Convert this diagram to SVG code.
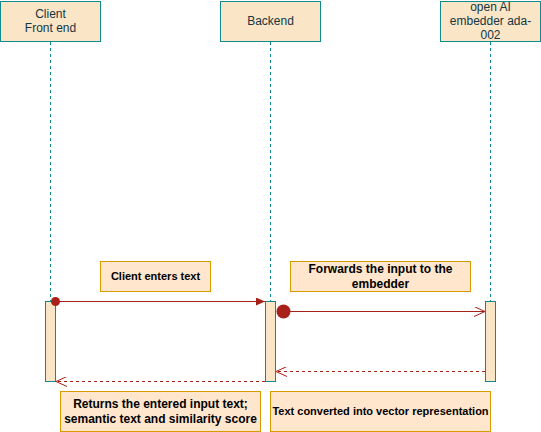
<svg xmlns="http://www.w3.org/2000/svg" width="541" height="432" viewBox="0 0 541 432">
<style>
.hdr{fill:#FAE5C7;stroke:#0F8B8D;stroke-width:1}
.bar{fill:#FAE5C7;stroke:#0F8B8D;stroke-width:1}
.life{stroke:#0F8B8D;stroke-width:1;stroke-dasharray:3 3;fill:none}
.lbl{fill:#FFE6CC;stroke:#D79B00;stroke-width:1}
.ht{font-family:"Liberation Sans",Arial,sans-serif;font-size:12px;fill:#143642;text-anchor:middle}
.lt{font-family:"Liberation Sans",Arial,sans-serif;font-size:11px;font-weight:bold;fill:#000;text-anchor:middle}
.lt12{font-family:"Liberation Sans",Arial,sans-serif;font-size:12px;font-weight:bold;fill:#000;text-anchor:middle}
.msg{stroke:#A8201A;stroke-width:1;fill:none}
.ret{stroke:#A8201A;stroke-width:1;fill:none;stroke-dasharray:3 3}
</style>
<defs>
<marker id="block" markerWidth="10" markerHeight="8" refX="9" refY="4" orient="auto" markerUnits="userSpaceOnUse">
<path d="M0,0 L9,4 L0,8 Z" fill="#A8201A"/>
</marker>
<marker id="open" markerWidth="12" markerHeight="10" refX="11" refY="5" orient="auto" markerUnits="userSpaceOnUse">
<path d="M0,0 L11,5 L0,10" fill="none" stroke="#A8201A" stroke-width="1"/>
</marker>
</defs>
<rect width="541" height="432" fill="#fff"/>
<g id="lifelines">
<line class="life" x1="50.5" y1="42" x2="50.5" y2="301"/>
<line class="life" x1="270.5" y1="42" x2="270.5" y2="301"/>
<line class="life" x1="490.5" y1="42" x2="490.5" y2="301"/>
</g>
<g id="client">
<rect class="hdr" x="0.5" y="1.5" width="100" height="40"/>
<text class="ht" x="50.5" y="18">Client</text>
<text class="ht" x="50.5" y="32">Front end</text>
</g>
<g id="backend">
<rect class="hdr" x="220.5" y="1.5" width="100" height="40"/>
<text class="ht" x="270.5" y="25">Backend</text>
</g>
<g id="embedder">
<rect class="hdr" x="440.5" y="1.5" width="100" height="40"/>
<text class="ht" x="490.5" y="11">open AI</text>
<text class="ht" x="490.5" y="25">embedder ada-</text>
<text class="ht" x="490.5" y="39">002</text>
</g>
<g id="bar-client"><rect class="bar" x="45.5" y="301.5" width="10" height="80"/></g>
<g id="bar-backend"><rect class="bar" x="265.5" y="301.5" width="10" height="80"/></g>
<g id="bar-embedder"><rect class="bar" x="485.5" y="301.5" width="10" height="80"/></g>
<g id="connectors">
<line class="msg" x1="55.5" y1="301.5" x2="265" y2="301.5" marker-end="url(#block)"/>
<circle cx="55.5" cy="301.5" r="4.5" fill="#A8201A"/>
<line class="msg" x1="283.5" y1="311.5" x2="485" y2="311.5" marker-end="url(#open)"/>
<circle cx="283.5" cy="311.5" r="7" fill="#A8201A"/>
<line class="ret" x1="485" y1="371.5" x2="276" y2="371.5" marker-end="url(#open)"/>
<line class="ret" x1="265" y1="381.5" x2="56" y2="381.5" marker-end="url(#open)"/>
</g>
<g id="label-client-enters">
<rect class="lbl" x="100.5" y="261.5" width="110" height="30"/>
<text class="lt" x="155.5" y="280">Client enters text</text>
</g>
<g id="label-forwards">
<rect class="lbl" x="290.5" y="261.5" width="180" height="30"/>
<text class="lt12" x="380.5" y="273">Forwards the input to the</text>
<text class="lt12" x="380.5" y="288">embedder</text>
</g>
<g id="label-returns">
<rect class="lbl" x="60.5" y="391.5" width="200" height="40"/>
<text class="lt12" x="160.5" y="408">Returns the entered input text;</text>
<text class="lt12" x="160.5" y="423">semantic text and similarity score</text>
</g>
<g id="label-converted">
<rect class="lbl" x="270.5" y="391.5" width="220" height="40"/>
<text class="lt" x="380.5" y="415">Text converted into vector representation</text>
</g>
</svg>
